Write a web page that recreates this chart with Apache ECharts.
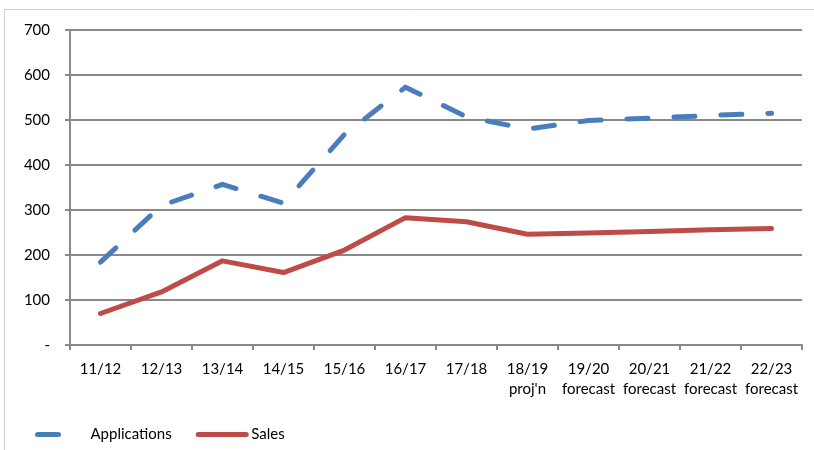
<!DOCTYPE html>
<html>
<head>
<meta charset="utf-8">
<script src="https://cdn.jsdelivr.net/npm/echarts@6/dist/echarts.min.js"></script>
<style>
  html, body { margin: 0; padding: 0; background: #fff; }
  #chart { width: 814px; height: 450px; }
</style>
</head>
<body>
<div id="chart"></div>
<script>
  // data
  var categories = ['11/12', '12/13', '13/14', '14/15', '15/16', '16/17', '17/18',
    "18/19\nproj'n", '19/20\nforecast', '20/21\nforecast', '21/22\nforecast', '22/23\nforecast']
  var applications = [184, 310, 357, 315, 468, 573, 507, 480, 499, 504, 510, 515]
  var sales = [70, 118, 187, 161, 211, 283, 274, 246, 249, 252, 256, 259]
  var yTicks = [0, 100, 200, 300, 400, 500, 600, 700]

  var gridColor = '#898989'
  var font = 'Lato, "Open Sans", sans-serif'

  var chart = echarts.init(document.getElementById('chart'))
  var option = {
    animation: false,
    textStyle: { fontFamily: font },
    graphic: [{
      type: 'rect',
      shape: { x: 4.5, y: 9.5, width: 900, height: 600 },
      style: { fill: 'none', stroke: '#d0d0d0', lineWidth: 1 },
      silent: true
    }],
    grid: { left: 70, right: 12, top: 30, bottom: 105 },
    legend: {
      left: 30,
      top: 422,
      itemWidth: 48,
      itemHeight: 10,
      itemGap: 24,
      itemStyle: { opacity: 0 },
      lineStyle: { width: 5, cap: 'round' },
      textStyle: { fontFamily: font, fontSize: 15, color: '#000' },
      data: [
        { name: 'Applications', lineStyle: { type: [21, 60] } },
        { name: 'Sales' }
      ]
    },
    xAxis: {
      type: 'category',
      data: categories,
      boundaryGap: true,
      axisLine: { lineStyle: { color: gridColor, width: 2 } },
      axisTick: { show: true, length: 5, lineStyle: { color: gridColor, width: 2 } },
      axisLabel: { color: '#000', fontSize: 15, fontFamily: font, margin: 14, lineHeight: 20, interval: 0 }
    },
    yAxis: {
      type: 'value',
      min: yTicks[0],
      max: yTicks[yTicks.length - 1],
      interval: 100,
      axisLine: { show: true, lineStyle: { color: gridColor, width: 2 } },
      axisTick: { show: true, length: 5, lineStyle: { color: gridColor, width: 2 } },
      splitLine: { lineStyle: { color: gridColor, width: 2 } },
      axisLabel: {
        color: '#000', fontSize: 15, fontFamily: font, margin: 20,
        formatter: function (v) { return v === 0 ? '-' : String(v) }
      }
    },
    series: [
      {
        name: 'Applications',
        type: 'line',
        data: applications,
        symbol: 'none',
        color: '#4a7ebb',
        lineStyle: { width: 5, type: [21, 26], cap: 'round', join: 'round', color: '#4a7ebb' }
      },
      {
        name: 'Sales',
        type: 'line',
        data: sales,
        symbol: 'none',
        color: '#be4b48',
        lineStyle: { width: 5, cap: 'round', join: 'round', color: '#be4b48' }
      }
    ]
  }
  chart.setOption(option)
</script>
</body>
</html>
